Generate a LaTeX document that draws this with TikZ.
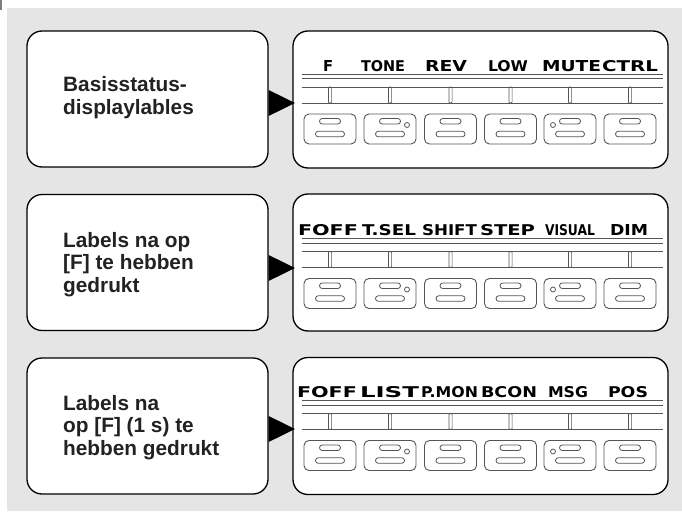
\documentclass[tikz,border=0pt]{standalone}
\usepackage{fontspec}
\usepackage{graphicx}
\setmainfont{Liberation Sans}
\newfontfamily\lcdfont{DejaVu Sans}
\definecolor{bggray}{RGB}{229,229,229}
\definecolor{txtdark}{RGB}{34,34,34}
\definecolor{lcdline}{RGB}{85,85,85}
\tikzset{
  lbox/.style={draw=black, fill=white, line width=1.3pt, rounded corners=15pt,
    minimum width=241pt, minimum height=136pt, inner sep=0pt},
  dbox/.style={draw=black, fill=white, line width=1.3pt, rounded corners=15pt,
    minimum width=375pt, minimum height=137pt, inner sep=0pt},
  ltext/.style={font=\bfseries\fontsize{20.8pt}{22.5pt}\selectfont, text=txtdark,
    anchor=base west, inner sep=0pt},
  lcd/.style={font=\lcdfont\bfseries\fontsize{14pt}{14pt}\selectfont, text=black,
    anchor=base, inner sep=0pt},
  dline/.style={draw=lcdline, line width=0.9pt},
  tickbox/.style={draw=lcdline, line width=0.7pt, rounded corners=1pt},
  btn/.style={draw=lcdline, line width=0.9pt, rounded corners=5pt},
  pill/.style={draw=lcdline, line width=0.8pt, rounded corners=2.7pt},
}
\begin{document}
\begin{tikzpicture}[x=1pt, y=-1pt]
\useasboundingbox (0,0) rectangle (682,511);
\fill[bggray] (7,8) rectangle (682,511);
\fill[gray] (0,0) rectangle (2,10);

% left boxes
\node[lbox] (L1) at (147.5,99) {};
\node[lbox] (L2) at (147.5,262.5) {};
\node[lbox] (L3) at (147.5,426) {};
% display boxes
\node[dbox] (D1) at (480.5,99.5) {};
\node[dbox] (D2) at (480.5,262.5) {};
\node[dbox] (D3) at (480.5,426) {};

% left texts
\node[ltext] (t1a) at (63,92) {Basisstatus-};
\node[ltext] (t1b) at (63,114.5) {displaylables};
\node[ltext] (t2a) at (63,247) {Labels na op};
\node[ltext] (t2b) at (63,269.5) {[F] te hebben};
\node[ltext] (t2c) at (63,292) {gedrukt};
\node[ltext] (t3a) at (63,410) {Labels na};
\node[ltext] (t3b) at (63,432.5) {op [F] (1 s) te};
\node[ltext] (t3c) at (63,455) {hebben gedrukt};

% arrow tips
\coordinate (a1) at (295,103);
\coordinate (a2) at (295,268);
\coordinate (a3) at (295,429);
\foreach \k in {1,2,3}{
  \fill[black] (a\k) -- ([yshift=13pt]L\k.east |- a\k) -- ([yshift=-13pt]L\k.east |- a\k) -- cycle;
}

% display contents
\foreach \row/\off/\labels in {
  1/31/{328/10/F,383/44/TONE,446/42/REV,508/40/LOW,571.5/59/MUTE,630/56/CTRL},
  2/195.5/{328/60/FOFF,389/54/T.SEL,449.5/55/SHIFT,507.5/55/STEP,570/50/VISUAL,629/38/DIM},
  3/357.5/{327/60/FOFF,389.5/59/LIST,449.5/57/P.MON,509/56/BCON,568/40/MSG,628/40/POS}}{
  \begin{scope}[yshift=-\off pt]
    \foreach \cx/\w/\txt [count=\i] in \labels {
      \node[lcd] (lab-\row-\i) at (\cx,40) {\resizebox{\w pt}{11pt}{\txt}};
    }
    \draw[dline] (302,43) -- (663,43);
    \draw[dline] (302,47.5) -- (663,47.5);
    \draw[dline] (302,56) -- (663,56);
    \draw[dline] (302,72) -- (663,72);
    \foreach \x [count=\j] in {330,390,450.5,510.5,570,630}{
      \draw[tickbox] (\x-1.6,56) rectangle (\x+1.6,72);
      \draw[btn] (\x-26,83) rectangle (\x+26,113);
      \draw[pill] (\x-10.5,87.5) rectangle (\x+10.5,93);
      \draw[pill] (\x-14.5,100.3) rectangle (\x+14.5,105.8);
    }
    \draw[lcdline, line width=0.8pt] (407,94) circle (2.5pt);
    \draw[lcdline, line width=0.8pt] (553,94) circle (2.5pt);
  \end{scope}
}
\end{tikzpicture}
\end{document}
